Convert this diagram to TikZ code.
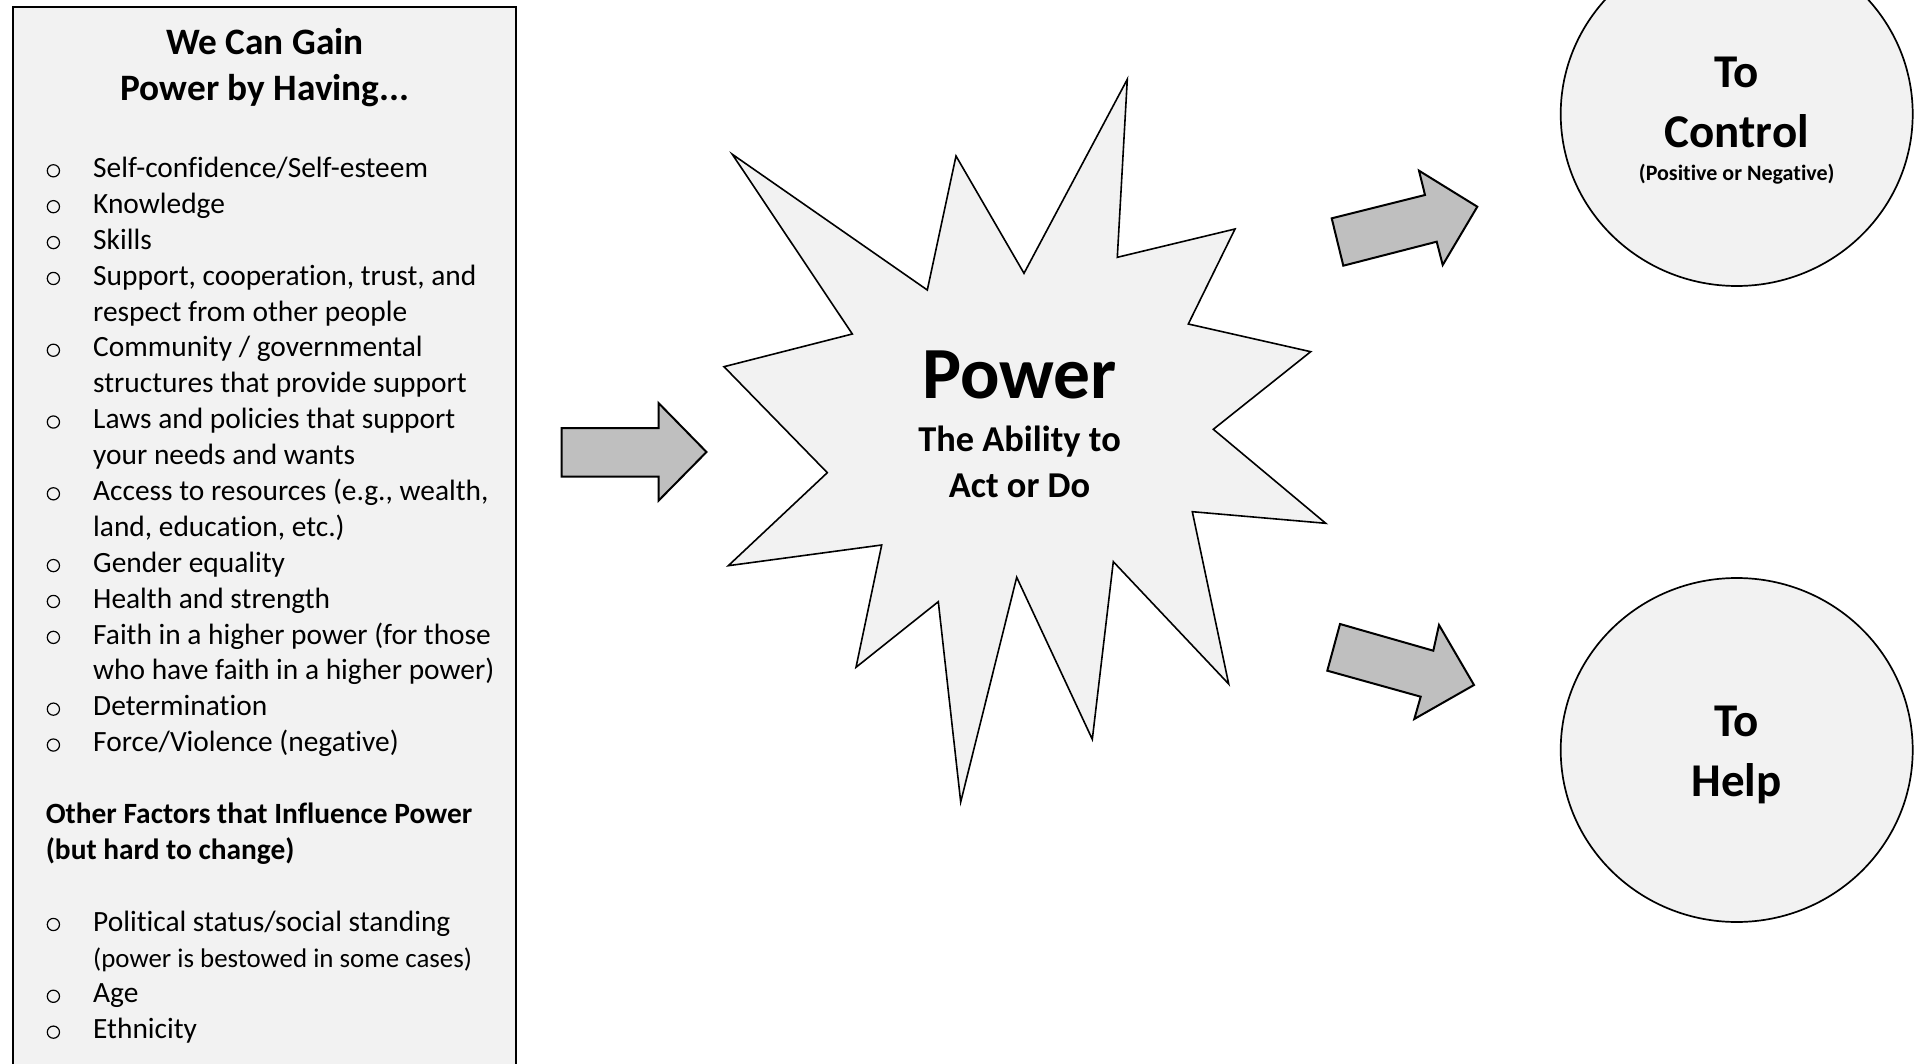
\documentclass[tikz,border=0pt]{standalone}
\usepackage{fontspec}
\setmainfont[Ligatures={NoCommon}]{Carlito}
\definecolor{panel}{HTML}{F2F2F2}
\definecolor{arrowgray}{HTML}{BFBFBF}
\newcommand\bulletline[2]{%
  \node[bul] (B#1) at (53.4,{177.5+#1*35.89-6.7}) {};
  \node[item] (L#1) at (93,{177.5+#1*35.89}) {#2};}
\newcommand\contline[2]{%
  \node[item] (L#1) at (93,{177.5+#1*35.89}) {#2};}
\begin{document}
\begin{tikzpicture}[x=1pt,y=-1pt,
  outline/.style={draw=black,line width=1.7pt,line join=miter,fill=panel},
  blockarrow/.style={draw=black,line width=2pt,fill=arrowgray,line join=miter},
  item/.style={anchor=base west,inner sep=0pt,font=\fontsize{29.4}{36}\selectfont},
  bul/.style={circle,draw=black,line width=1.2pt,inner sep=0pt,minimum size=12.2pt},
  head/.style={anchor=base west,inner sep=0pt,font=\bfseries\fontsize{29.4}{36}\selectfont},
  title/.style={anchor=base,inner sep=0pt,font=\bfseries\fontsize{37.3}{46}\selectfont},
  big/.style={anchor=base,inner sep=0pt,font=\bfseries\fontsize{47}{56}\selectfont},
]
\clip (0,0) rectangle (1914,1064);
\fill[white] (0,0) rectangle (1914,1064);

% left panel
\draw[outline] (13,7) rectangle (516,1090);
\node[title] (t1) at (265,54.1) {We Can Gain};
\node[title] (t2) at (265,100.4) {Power by Having...};

\bulletline{0}{Self-confidence/Self-esteem}
\bulletline{1}{Knowledge}
\bulletline{2}{Skills}
\bulletline{3}{Support, cooperation, trust, and}
\contline{4}{respect from other people}
\bulletline{5}{Community / governmental}
\contline{6}{structures that provide support}
\bulletline{7}{Laws and policies that support}
\contline{8}{your needs and wants}
\bulletline{9}{Access to resources (e.g., wealth,}
\contline{10}{land, education, etc.)}
\bulletline{11}{Gender equality}
\bulletline{12}{Health and strength}
\bulletline{13}{Faith in a higher power (for those}
\contline{14}{who have faith in a higher power)}
\bulletline{15}{Determination}
\bulletline{16}{Force/Violence (negative)}
\node[head] (h1) at (45.6,{177.5+18*35.89}) {Other Factors that Influence Power};
\node[head] (h2) at (45.6,{177.5+19*35.89}) {(but hard to change)};
\bulletline{21}{Political status/social standing}
\node[item,font=\fontsize{26.9}{32}\selectfont] (L22) at (93,{177.5+22*35.89}) {(power is bestowed in some cases)};
\bulletline{23}{Age}
\bulletline{24}{Ethnicity}

% left block arrow
\draw[blockarrow] (561.7,428) -- (658.5,428) -- (658.5,403) -- (706.5,452)
  -- (658.5,500.7) -- (658.5,476.7) -- (561.7,476.7) -- cycle;

% starburst
\draw[outline,line width=1.6pt] (732.3,154.3) -- (927.3,290) -- (956,156) -- (1024,273.3)
  -- (1127.3,79.3) -- (1117.3,257.3) -- (1235,229) -- (1188.3,324)
  -- (1310.7,351.7) -- (1213.3,429.3) -- (1325.7,523.3) -- (1192.3,511.7)
  -- (1228.7,684) -- (1113.3,561.7) -- (1092.3,739.3) -- (1016.7,577.3)
  -- (960.7,802) -- (938.3,601.7) -- (856,667.3) -- (881.7,545)
  -- (728.3,565.7) -- (827.3,472.7) -- (724,366.7) -- (852.3,334) -- cycle;
\node[anchor=base,inner sep=0pt,font=\bfseries\fontsize{73.5}{80}\selectfont] (pw) at (1019.5,398.5) {Power};
\node[anchor=base,inner sep=0pt,font=\bfseries\fontsize{36.4}{44}\selectfont] (ab) at (1019.5,451.7) {The Ability to};
\node[anchor=base,inner sep=0pt,font=\bfseries\fontsize{36.4}{44}\selectfont] (ad) at (1019.5,497.3) {Act or Do};

% upper right block arrow
\draw[blockarrow] (1331.7,218.3) -- (1425,195) -- (1419,170.7) -- (1477.3,206.7)
  -- (1442.7,265) -- (1436.7,241.7) -- (1343.3,265.7) -- cycle;

% lower right block arrow
\draw[blockarrow] (1340,624) -- (1433.3,650.7) -- (1439,625) -- (1474,685)
  -- (1414.3,719) -- (1420.7,696.7) -- (1327.3,670.7) -- cycle;

% circles
\draw[outline] (1736.7,114) ellipse [x radius=176, y radius=172];
\node[big] (c1a) at (1736.7,87.3) {To};
\node[big] (c1b) at (1736.7,147.7) {Control};
\node[anchor=base,inner sep=0pt,font=\bfseries\fontsize{22}{26}\selectfont] (c1c) at (1736.7,181) {(Positive or Negative)};

\draw[outline] (1736.7,750) ellipse [x radius=176, y radius=172];
\node[big] (c2a) at (1736.7,736.7) {To};
\node[big] (c2b) at (1736.7,796) {Help};
\end{tikzpicture}
\end{document}
